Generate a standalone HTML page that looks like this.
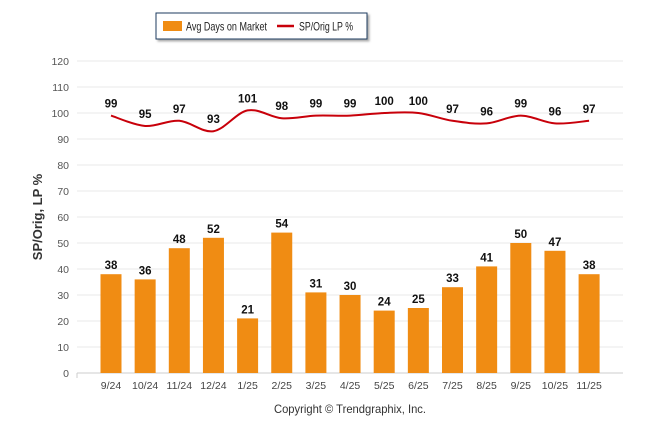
<!DOCTYPE html>
<html><head><meta charset="utf-8"><style>
body{margin:0;background:#fff;}
svg{display:block;font-family:"Liberation Sans",Arial,sans-serif;}
</style></head><body>
<svg id="chart" width="646" height="434">
<defs><filter id="sh" x="-10%" y="-10%" width="130%" height="150%"><feDropShadow dx="2" dy="2" stdDeviation="1" flood-color="#888" flood-opacity="0.7"/></filter></defs>
<g>
<rect x="156" y="13" width="211" height="26" fill="#fff" stroke="#1f3a5f" stroke-width="1" filter="url(#sh)"/>
<rect x="163" y="21" width="19" height="10" fill="#f08c13"/>
<text x="186" y="30.5" font-size="12" fill="#222" textLength="81" lengthAdjust="spacingAndGlyphs">Avg Days on Market</text>
<line x1="277" y1="26" x2="294" y2="26" stroke="#c8000a" stroke-width="2.5"/>
<text x="299" y="30.5" font-size="12" fill="#222" textLength="54" lengthAdjust="spacingAndGlyphs">SP/Orig LP %</text>
</g>
<text transform="translate(42,217) rotate(-90)" text-anchor="middle" font-size="13" font-weight="bold" fill="#333">SP/Orig, LP %</text>
<text x="274" y="413" font-size="12" fill="#333" textLength="152" lengthAdjust="spacingAndGlyphs">Copyright © Trendgraphix, Inc.</text>
<g id="grid"></g><g id="bars"></g><g id="line"></g><g id="labels"></g>
</svg>
<script>
const categories=["9/24","10/24","11/24","12/24","1/25","2/25","3/25","4/25","5/25","6/25","7/25","8/25","9/25","10/25","11/25"];
const daysOnMarket=[38,36,48,52,21,54,31,30,24,25,33,41,50,47,38];
const spOrigLp=[99,95,97,93,101,98,99,99,100,100,97,96,99,96,97];
const yTicks=[0,10,20,30,40,50,60,70,80,90,100,110,120];
const NS="http://www.w3.org/2000/svg";
const y=v=>373-v*2.6;
const x=i=>111+i*34.15;
function mk(tag,attrs,parent,text){const e=document.createElementNS(NS,tag);for(const k in attrs)e.setAttribute(k,attrs[k]);if(text!==undefined)e.textContent=text;document.getElementById(parent).appendChild(e);return e;}
yTicks.forEach(t=>{
 const l=mk("line",{x1:77,x2:623,y1:y(t),y2:y(t),stroke:t===0?"#cccccc":"#e8e8e8","stroke-width":1},"grid");
 
 
 const tx=mk("text",{x:69,y:y(t)+4,"text-anchor":"end","font-size":"10.5",fill:"#555"},"grid",t);
 
 
});
const tk=mk("line",{x1:77,x2:77,y1:373,y2:378,stroke:"#ccc"},"grid");


categories.forEach((c,i)=>{
 const tx=mk("text",{x:x(i),y:389,"text-anchor":"middle","font-size":"10.5",fill:"#444"},"grid",c);
 
 
 const v=daysOnMarket[i];
 const b=mk("rect",{x:x(i)-10.5,y:y(v),width:21,height:373-y(v),fill:"#f08c13"},"bars");
 
 
 const bl=mk("text",{x:x(i),y:y(v)-5,"text-anchor":"middle","font-size":"11.5","font-weight":"bold",fill:"#111"},"labels",v);
 
 
});
const pts=spOrigLp.map((v,i)=>[x(i),y(v)]);
let d="M"+pts[0][0]+","+pts[0][1];
for(let i=0;i<pts.length-1;i++){
 const p0=pts[Math.max(0,i-1)],p1=pts[i],p2=pts[i+1],p3=pts[Math.min(pts.length-1,i+2)];
 const c1=[p1[0]+(p2[0]-p0[0])/6,p1[1]+(p2[1]-p0[1])/6];
 const c2=[p2[0]-(p3[0]-p1[0])/6,p2[1]-(p3[1]-p1[1])/6];
 d+=` C${c1[0]},${c1[1]} ${c2[0]},${c2[1]} ${p2[0]},${p2[1]}`;
}
const ln=mk("path",{d:d,fill:"none",stroke:"#c8000a","stroke-width":2},"line");


spOrigLp.forEach((v,i)=>{
 const t=mk("text",{x:x(i),y:y(v)-8,"text-anchor":"middle","font-size":"11.5","font-weight":"bold",fill:"#111"},"labels",v);
 
 
});
</script>
</body></html>
